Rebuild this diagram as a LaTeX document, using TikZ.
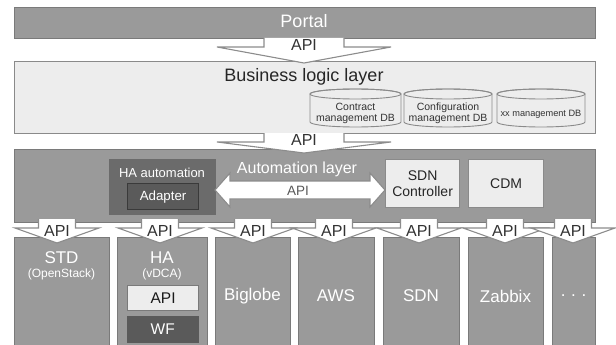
\documentclass[tikz,border=0pt]{standalone}
\usepackage{fontspec}
\setmainfont{Liberation Sans}
\definecolor{midgray}{HTML}{9A9A9A}
\definecolor{edgegray}{HTML}{7A7A7A}
\definecolor{lightfill}{HTML}{EDEDED}
\definecolor{lightedge}{HTML}{8A8A8A}
\definecolor{darkbox}{HTML}{6B6B6B}
\definecolor{darkerbox}{HTML}{5A5A5A}
\definecolor{darkedge}{HTML}{3A3A3A}
\definecolor{arrowedge}{HTML}{8C8C8C}
\definecolor{txtdark}{HTML}{333333}
\newcommand{\fs}[1]{\fontsize{#1}{#1}\selectfont}
% down block arrow: cx, ytop, yshoulder, ytip, shaft half, head half
\newcommand{\blkdown}[6]{%
  \path[blkarrow] (#1-#5,#2) -- (#1-#5,#3) -- (#1-#6,#3) -- (#1,#4) -- (#1+#6,#3) -- (#1+#5,#3) -- (#1+#5,#2);}
\newcommand{\cylshape}[5]{% cx, rx, ytop, ybot, ry
  \path[fill=lightfill, draw=lightedge, line width=0.9pt] (#1-#2,#3+#5) -- (#1-#2,#4-#5)
    arc[start angle=180, end angle=360, x radius=#2pt, y radius=#5pt] -- (#1+#2,#3+#5)
    arc[start angle=0, end angle=180, x radius=#2pt, y radius=#5pt] -- cycle;
  \draw[lightedge, line width=0.9pt] (#1,#3+#5) ellipse [x radius=#2pt, y radius=#5pt];}
\tikzset{
  graybox/.style={draw=edgegray, fill=midgray, line width=1.2pt, inner sep=0pt, anchor=north west},
  lightbox/.style={draw=lightedge, fill=lightfill, line width=1.2pt, inner sep=0pt, anchor=north west},
  blkarrow/.style={fill=white, draw=arrowedge, line width=1.1pt, line join=miter},
  wtext/.style={text=white, inner sep=0pt},
  dtext/.style={text=txtdark, inner sep=0pt},
}
\begin{document}
\begin{tikzpicture}[x=1pt, y=-1pt]
\useasboundingbox (0,0) rectangle (616,345);
% layers
\node[graybox, minimum width=581pt, minimum height=31pt] (portal) at (14,7) {};
\node[wtext, font=\fs{18}] (portaltxt) at (304,21) {Portal};
\node[lightbox, minimum width=581pt, minimum height=72pt] (biz) at (14,61) {};
\node[text=black!85, inner sep=0pt, font=\fs{18}] (biztxt) at (304,77) {Business logic layer};
\node[graybox, minimum width=581pt, minimum height=73pt] (auto) at (14,149) {};
% DB cylinders
\cylshape{355.5}{45.5}{89}{127}{5}
\cylshape{448}{44}{89}{127}{5}
\cylshape{541}{44}{89}{127}{5}
\node[dtext, font=\fs{10.5}, align=center] (db1) at (355.5,113.5) {Contract\\[0.5pt]management DB};
\node[dtext, font=\fs{10.5}, align=center] (db2) at (448,113.5) {Configuration\\[0.5pt]management DB};
\node[dtext, font=\fs{9.2}] (db3) at (541,114) {xx management DB};
% arrows between layers
\blkdown{304}{38}{47}{63}{40}{87}
\node[dtext, font=\fs{16}] (api1) at (304,45) {API};
\blkdown{304}{133}{142}{153}{40}{87}
\node[dtext, font=\fs{16}] (api2) at (304,140) {API};
% automation layer content
\node[draw=darkbox, fill=darkbox, inner sep=0pt, anchor=north west, minimum width=106pt, minimum height=55pt] (haauto) at (109,159) {};
\node[wtext, font=\fs{13}] (haautotxt) at (162,173) {HA automation};
\node[draw=darkedge, fill=darkerbox, line width=1.2pt, inner sep=0pt, anchor=north west, minimum width=71pt, minimum height=26pt, text=white, font=\fs{13.3}] (adapter) at (127,183) {Adapter};
\node[lightbox, minimum width=74pt, minimum height=48pt, align=center, text=black!85, font=\fs{14}] (sdnc) at (385,159) {SDN\\[2pt]Controller};
\node[lightbox, minimum width=75pt, minimum height=48pt, text=black!85, font=\fs{14}] (cdm) at (468,159) {CDM};
\node[wtext, font=\fs{16}] (autotxt) at (297,169) {Automation layer};
\path[blkarrow] (215,190) -- (230,173) -- (230,181) -- (370,181) -- (370,173) -- (385,190) -- (370,207) -- (370,199) -- (230,199) -- (230,207) -- cycle;
\node[text=black!65, inner sep=0pt, font=\fs{13.5}] (api3) at (298,191) {API};
% bottom boxes
\node[graybox, minimum width=95pt, minimum height=115pt] (std) at (14,237) {};
\node[graybox, minimum width=90pt, minimum height=115pt] (ha) at (117,237) {};
\node[graybox, minimum width=75pt, minimum height=115pt] (biglobe) at (215,237) {};
\node[graybox, minimum width=76pt, minimum height=115pt] (aws) at (298,237) {};
\node[graybox, minimum width=76pt, minimum height=115pt] (sdn) at (383,237) {};
\node[graybox, minimum width=75pt, minimum height=115pt] (zabbix) at (468,237) {};
\node[graybox, minimum width=43pt, minimum height=115pt] (more) at (552,237) {};
\node[wtext, font=\fs{17}] (stdtxt) at (61.5,258) {STD};
\node[wtext, font=\fs{12}] (stdsub) at (61.5,274) {(OpenStack)};
\node[wtext, font=\fs{17}] (hatxt) at (162,258) {HA};
\node[wtext, font=\fs{12}] (hasub) at (162,274) {(vDCA)};
\node[draw=edgegray, fill=lightfill, line width=1.2pt, inner sep=0pt, anchor=north west, minimum width=71pt, minimum height=25pt, text=black!90, font=\fs{15.5}] (haapi) at (127,285) {API};
\node[draw=darkerbox, fill=darkerbox, inner sep=0pt, anchor=north west, minimum width=71pt, minimum height=26pt, text=white, font=\fs{15.5}] (wf) at (127,316) {WF};
\node[wtext, font=\fs{17}] (bigtxt) at (252.5,296) {Biglobe};
\node[wtext, font=\fs{17}] (awstxt) at (336,296) {AWS};
\node[wtext, font=\fs{17}] (sdntxt) at (421,296) {SDN};
\node[wtext, font=\fs{17}] (zabtxt) at (505.5,296) {Zabbix};
\node[wtext, font=\fs{17}] (moretxt) at (573.5,296) {.\,\,.\,\,.};
% bottom arrows
\foreach \cx/\nm in {57/a,160/b,253/c,334/d,419/e,505/f,573/g}{
  \blkdown{\cx}{219}{228}{243}{18.5}{42}
  \node[dtext, font=\fs{16}] (bapi\nm) at (\cx,231) {API};
}
\end{tikzpicture}
\end{document}
